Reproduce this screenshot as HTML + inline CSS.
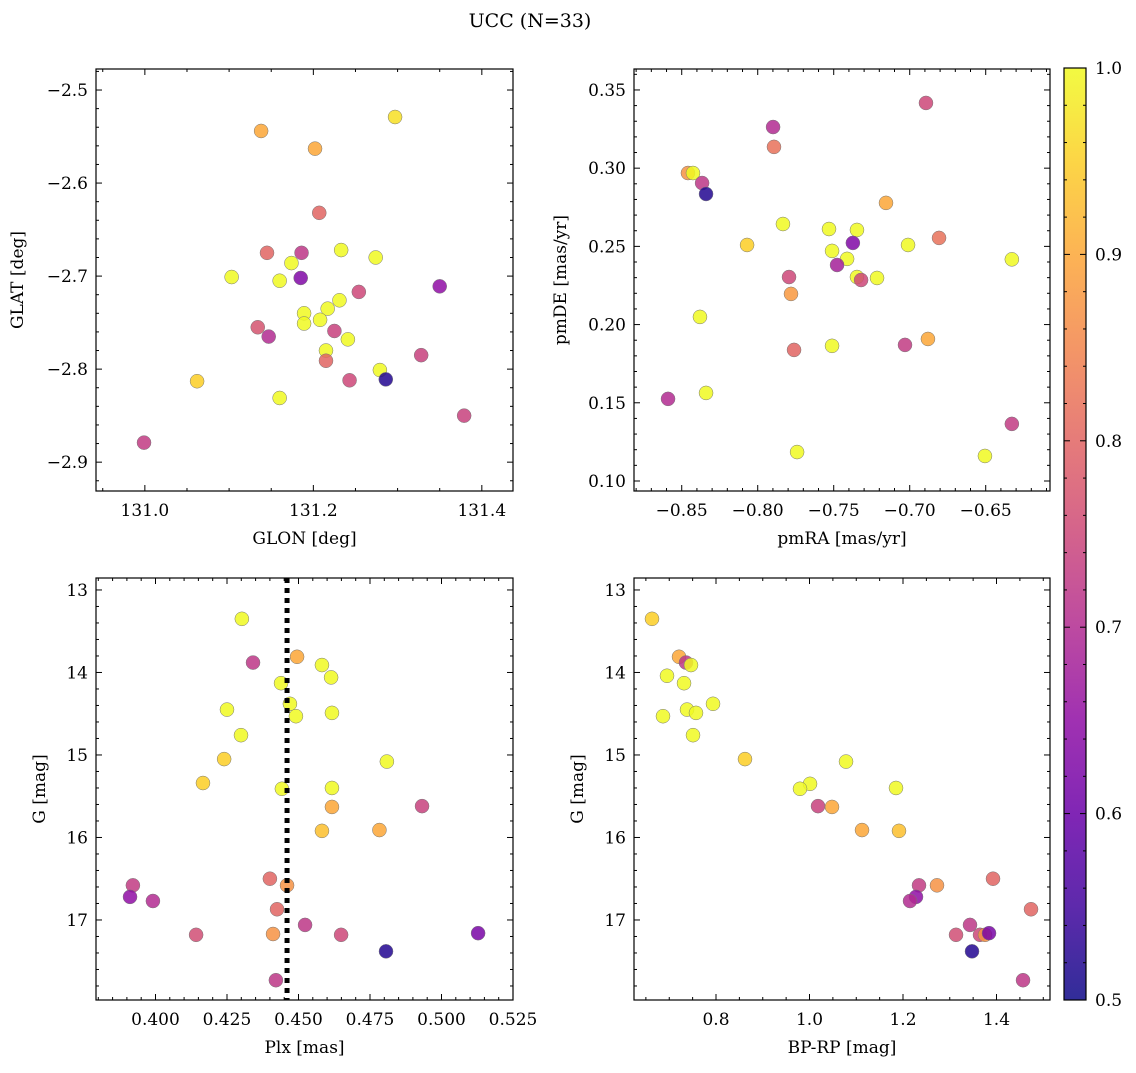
<!DOCTYPE html>
<html><head><meta charset="utf-8"><style>
body{margin:0;background:#fff;}
svg text{font-family:"DejaVu Serif","Liberation Serif",serif;fill:#000;}
</style></head><body>
<svg id="fig" width="1136" height="1068" viewBox="0 0 1136 1068" xmlns="http://www.w3.org/2000/svg">
<text x="530" y="27" font-size="19" text-anchor="middle">UCC (N=33)</text>
</svg>
<script>
// Panel 1: GLON vs GLAT
const p1x=[131.138,131.297,131.202,131.207,131.145,131.186,131.233,131.103,131.174,131.185,131.160,131.274,131.350,131.254,131.189,131.217,131.231,131.208,131.189,131.134,131.147,131.225,131.241,131.215,131.215,131.279,131.286,131.328,131.243,131.062,131.160,131.379,130.999];
const p1y=[-2.544,-2.529,-2.563,-2.632,-2.675,-2.675,-2.672,-2.701,-2.686,-2.702,-2.705,-2.680,-2.711,-2.717,-2.740,-2.735,-2.726,-2.747,-2.751,-2.755,-2.765,-2.759,-2.768,-2.780,-2.791,-2.801,-2.811,-2.785,-2.812,-2.813,-2.831,-2.850,-2.879];
const p1c=[0.9,0.97,0.9,0.8,0.8,0.72,1,1,1,0.63,1,1,0.65,0.75,1,1,1,1,1,0.77,0.7,0.74,1,1,0.8,1,0.52,0.74,0.75,0.95,1,0.74,0.73];
// Panel 2: pmRA vs pmDE
const p2x=[-0.6893,-0.7899,-0.7893,-0.8459,-0.8426,-0.8366,-0.8340,-0.7156,-0.7531,-0.7834,-0.7347,-0.7374,-0.8070,-0.7011,-0.6807,-0.7511,-0.7412,-0.7478,-0.6328,-0.7794,-0.7347,-0.7320,-0.7215,-0.7781,-0.8380,-0.7761,-0.7511,-0.7031,-0.6880,-0.8340,-0.8590,-0.6328,-0.7741,-0.6505];
const p2y=[0.3417,0.3263,0.3136,0.2969,0.2969,0.2905,0.2835,0.2778,0.2611,0.2643,0.2605,0.2522,0.2509,0.2509,0.2554,0.2471,0.2420,0.2381,0.2417,0.2304,0.2304,0.2285,0.2298,0.2196,0.2049,0.1838,0.1864,0.1870,0.1908,0.1563,0.1525,0.1365,0.1185,0.1160];
const p2c=[0.75,0.7,0.82,0.87,1,0.72,0.52,0.9,1,1,1,0.63,0.95,1,0.82,1,1,0.68,1,0.75,1,0.75,1,0.88,1,0.8,1,0.73,0.9,1,0.7,0.73,1,1];
// Panel 3: Plx vs G
const p3x=[0.4302,0.4341,0.4495,0.4582,0.4614,0.4439,0.4470,0.4491,0.4617,0.4250,0.4299,0.4240,0.4166,0.4809,0.4617,0.4442,0.4617,0.4932,0.4582,0.4783,0.3921,0.3911,0.3991,0.4400,0.4460,0.4425,0.4142,0.4411,0.4523,0.4649,0.5128,0.4806,0.4421];
const p3y=[13.35,13.88,13.81,13.91,14.06,14.13,14.38,14.53,14.49,14.45,14.76,15.05,15.34,15.08,15.40,15.41,15.63,15.62,15.92,15.91,16.58,16.72,16.77,16.50,16.58,16.87,17.18,17.17,17.06,17.18,17.16,17.38,17.73];
const p3c=[1,0.72,0.9,1,1,1,1,1,1,1,1,0.95,0.95,1,1,1,0.9,0.74,0.93,0.9,0.73,0.65,0.7,0.8,0.87,0.8,0.76,0.87,0.72,0.75,0.62,0.52,0.72];
const plxLine=[0.446];
// Panel 4: BP-RP vs G
const p4x=[0.6631,0.7209,0.7358,0.7465,0.6952,0.7316,0.7936,0.7380,0.7572,0.6866,0.7508,0.8620,1.0011,0.9797,1.0781,1.1850,1.0182,1.0481,1.1123,1.1914,1.3925,1.2727,1.2342,1.2278,1.2150,1.4738,1.3134,1.3433,1.3647,1.3754,1.3840,1.3476,1.4567];
const p4y=[13.35,13.81,13.88,13.91,14.04,14.13,14.38,14.45,14.49,14.53,14.76,15.05,15.35,15.41,15.08,15.40,15.62,15.63,15.91,15.92,16.50,16.58,16.58,16.72,16.77,16.87,17.18,17.06,17.18,17.18,17.16,17.38,17.73];
const p4c=[0.95,0.9,0.72,1,1,1,1,1,1,1,1,0.95,1,1,1,1,0.74,0.9,0.9,0.93,0.8,0.87,0.73,0.65,0.7,0.8,0.76,0.72,0.75,0.87,0.62,0.52,0.72];
const cbTicks=[0.5,0.6,0.7,0.8,0.9,1.0];

const NS="http://www.w3.org/2000/svg";
const svg=document.getElementById('fig');
function mk(tag,attrs,parent){const e=document.createElementNS(NS,tag);for(const k in attrs)e.setAttribute(k,attrs[k]);(parent||svg).appendChild(e);return e;}
const stops=["#0d0887","#41049d","#6a00a8","#8f0da4","#b12a90","#cc4778","#e16462","#f2844b","#fca636","#fcce25","#f0f921"];
function hex(h){return [parseInt(h.substr(1,2),16),parseInt(h.substr(3,2),16),parseInt(h.substr(5,2),16)];}
function plasma(v){let t=Math.max(0,Math.min(1,(v-0.5)/0.5))*10;let i=Math.min(9,Math.floor(t));let f=t-i;const a=hex(stops[i]),b=hex(stops[i+1]);return 'rgb('+a.map((x,k)=>Math.round(x+(b[k]-x)*f)).join(',')+')';}
function fmt(v,d){return (v<0?'\u2212':'')+Math.abs(v).toFixed(d);}

function panel(o){
  const g=mk('g',{});
  
  
  const sx=v=>o.L+(v-o.x0)/(o.x1-o.x0)*(o.R-o.L);
  const sy=v=>o.T+(v-o.y0)/(o.y1-o.y0)*(o.B-o.T);
  for(let i=0;i<o.xs.length;i++){
    const c=mk('circle',{cx:sx(o.xs[i]),cy:sy(o.ys[i]),r:7,fill:plasma(o.cs[i]),'fill-opacity':0.85,stroke:'#777','stroke-width':0.5},g);
    
    
  }
  if(o.vline){for(const v of o.vline){const l=mk('line',{x1:sx(v),x2:sx(v),y1:o.T,y2:o.B,stroke:'#000','stroke-width':5,'stroke-dasharray':'5,5'},g);
    
    }}
  mk('rect',{x:o.L,y:o.T,width:o.R-o.L,height:o.B-o.T,fill:'none',stroke:'#000','stroke-width':1.2},g);
  const xmin=Math.min(o.x0,o.x1),xmax=Math.max(o.x0,o.x1);
  for(let k=Math.ceil(xmin/o.xm-1e-6);k*o.xm<=xmax+1e-9;k++){const v=k*o.xm,x=sx(v);const maj=Math.abs(v/o.xM-Math.round(v/o.xM))<1e-6;const len=maj?6:3;
    mk('line',{x1:x,x2:x,y1:o.B,y2:o.B-len,stroke:'#000'},g);mk('line',{x1:x,x2:x,y1:o.T,y2:o.T+len,stroke:'#000'},g);
    if(maj){const t=mk('text',{x:x,y:o.B+25,'font-size':17,'text-anchor':'middle'},g);t.textContent=fmt(v,o.xd);}}
  const ymin=Math.min(o.y0,o.y1),ymax=Math.max(o.y0,o.y1);
  for(let k=Math.ceil(ymin/o.ym-1e-6);k*o.ym<=ymax+1e-9;k++){const v=k*o.ym,y=sy(v);const maj=Math.abs(v/o.yM-Math.round(v/o.yM))<1e-6;const len=maj?6:3;
    mk('line',{x1:o.L,x2:o.L+len,y1:y,y2:y,stroke:'#000'},g);mk('line',{x1:o.R,x2:o.R-len,y1:y,y2:y,stroke:'#000'},g);
    if(maj){const t=mk('text',{x:o.L-8,y:y+6,'font-size':17,'text-anchor':'end'},g);t.textContent=fmt(v,o.yd);}}
  const xl=mk('text',{x:(o.L+o.R)/2,y:o.B+53,'font-size':17,'text-anchor':'middle'},g);xl.textContent=o.xlab;
  
  
  const yl=mk('text',{x:0,y:0,'font-size':17,'text-anchor':'middle',transform:'translate('+o.ylx+','+(o.T+o.B)/2+') rotate(-90)'},g);yl.textContent=o.ylab;
  
  
}
panel({name:'glon-glat-panel',L:96,R:513,T:69,B:491,x0:130.942,x1:131.437,y0:-2.4774,y1:-2.931,xs:p1x,ys:p1y,cs:p1c,xM:0.2,xm:0.05,yM:0.1,ym:0.02,xd:1,yd:1,xlab:'GLON [deg]',ylab:'GLAT [deg]',ylx:23});
panel({name:'pm-panel',L:634,R:1050,T:69,B:491,x0:-0.8814,x1:-0.6077,y0:0.3634,y1:0.0936,xs:p2x,ys:p2y,cs:p2c,xM:0.05,xm:0.01,yM:0.05,ym:0.01,xd:2,yd:2,xlab:'pmRA [mas/yr]',ylab:'pmDE [mas/yr]',ylx:566});
panel({name:'plx-g-panel',L:96,R:513,T:578,B:1000,x0:0.3792,x1:0.525,y0:12.855,y1:17.97,xs:p3x,ys:p3y,cs:p3c,xM:0.025,xm:0.005,yM:1,ym:0.2,xd:3,yd:0,xlab:'Plx [mas]',ylab:'G [mag]',ylx:45,vline:plxLine});
panel({name:'cmd-panel',L:634,R:1050,T:578,B:1000,x0:0.6246,x1:1.5144,y0:12.855,y1:17.97,xs:p4x,ys:p4y,cs:p4c,xM:0.2,xm:0.05,yM:1,ym:0.2,xd:1,yd:0,xlab:'BP-RP [mag]',ylab:'G [mag]',ylx:583});

const cb=mk('g',{});


const defs=mk('defs',{},cb);
const lg=mk('linearGradient',{id:'cbg',x1:0,y1:1,x2:0,y2:0},defs);
for(let i=0;i<=20;i++){mk('stop',{offset:(i/20),'stop-color':plasma(0.5+i/40),'stop-opacity':0.85},lg);}
mk('rect',{x:1064,y:68,width:22,height:932,fill:'url(#cbg)',stroke:'#000','stroke-width':1.2},cb);
const cy=v=>1000-(v-0.5)/0.5*932;
for(let k=25;k<=50;k++){const v=k/50,y=cy(v);const maj=k%5===0;mk('line',{x1:1086,x2:1086-(maj?6:3),y1:y,y2:y,stroke:'#000'},cb);mk('line',{x1:1064,x2:1064+(maj?6:3),y1:y,y2:y,stroke:'#000'},cb);}
for(const v of cbTicks){const t=mk('text',{x:1095,y:cy(v)+6,'font-size':17},cb);t.textContent=v.toFixed(1);
  
  }
</script>
</body></html>
